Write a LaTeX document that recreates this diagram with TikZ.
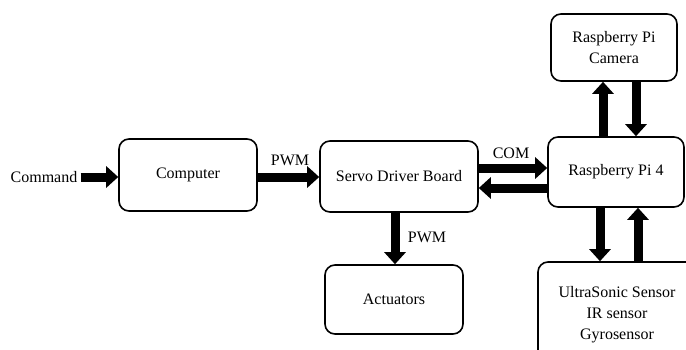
\documentclass[tikz,border=0pt]{standalone}
\usepackage{fontspec}
\setmainfont{Liberation Serif}
\usetikzlibrary{arrows.meta}
\tikzset{
  blk/.style={draw=black, line width=1.6pt, rounded corners=10pt, fill=white, align=center, inner sep=0pt,
    font=\fontsize{16}{21}\selectfont},
  lbl/.style={font=\fontsize{16}{21}\selectfont, inner sep=0pt},
  arr/.style={line width=9pt, -{Triangle[width=21pt,length=12pt]}},
}
\begin{document}
\begin{tikzpicture}[x=1pt,y=-1pt]
\useasboundingbox (0,0) rectangle (686,349);
\clip (0,0) rectangle (686,349);
\node[lbl] (cmd) at (44,177) {Command};
\node[blk, minimum width=138pt, minimum height=72pt] (comp) at (188,175) {Computer};
\node[blk, minimum width=158pt, minimum height=71pt] (servo) at (399,176.5) {Servo Driver Board};
\node[blk, minimum width=138pt, minimum height=69pt] (act) at (394,299.5) {Actuators};
\node[blk, minimum width=136pt, minimum height=70pt] (pi) at (616,172) {Raspberry Pi 4};
\node[blk, minimum width=126pt, minimum height=67pt] (cam) at (614,47.5) {Raspberry Pi\\Camera};
\node[blk, minimum width=158pt, minimum height=106pt] (sens) at (617,315) {UltraSonic Sensor\\IR sensor\\Gyrosensor};

\node[lbl] (pwm1) at (290,160) {PWM};
\node[lbl] (com) at (511,153) {COM};
\node[lbl] (pwm2) at (427,237) {PWM};

\coordinate (c0) at ([xshift=3pt]cmd.east);
\draw[arr] (c0) -- (comp.west |- c0);
\draw[arr] (comp.east |- 0,177) -- (servo.west |- 0,177);
\draw[arr] (servo.east |- 0,168) -- (pi.west |- 0,168);
\draw[arr] (pi.west |- 0,188) -- (servo.east |- 0,188);
\draw[arr] (servo.south -| 395,0) -- (act.north -| 395,0);
\draw[arr] (pi.north -| 603,0) -- (cam.south -| 603,0);
\draw[arr] (cam.south -| 636,0) -- (pi.north -| 636,0);
\draw[arr] (pi.south -| 600,0) -- (sens.north -| 600,0);
\draw[arr] (sens.north -| 638,0) -- (pi.south -| 638,0);
\end{tikzpicture}
\end{document}
